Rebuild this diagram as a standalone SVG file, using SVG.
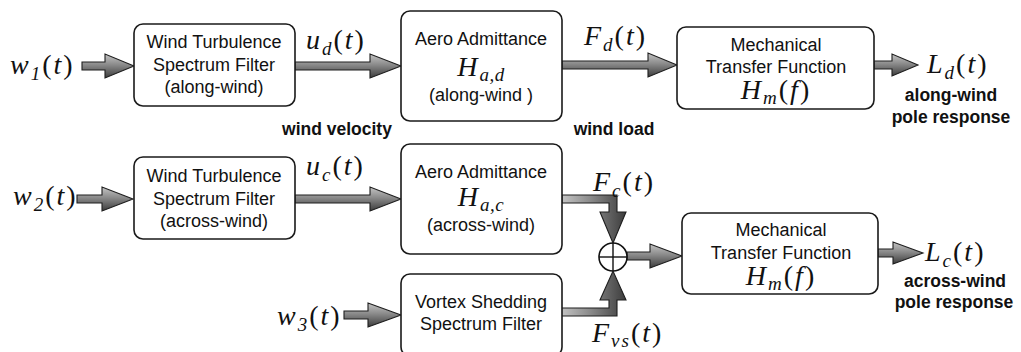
<svg xmlns="http://www.w3.org/2000/svg" width="1021" height="352" viewBox="0 0 1021 352">
<defs>
<linearGradient id="gh" x1="0" y1="0" x2="0" y2="1">
<stop offset="0" stop-color="#c4c4c4"/>
<stop offset="0.45" stop-color="#8a8a8a"/>
<stop offset="1" stop-color="#3c3c3c"/>
</linearGradient>
<linearGradient id="gv" x1="0" y1="0" x2="1" y2="0">
<stop offset="0" stop-color="#c4c4c4"/>
<stop offset="0.45" stop-color="#8a8a8a"/>
<stop offset="1" stop-color="#3c3c3c"/>
</linearGradient>
<style>
.box{fill:#fff;stroke:#1a1a1a;stroke-width:1.6}
.t{font-family:"Liberation Sans",Arial,sans-serif;font-size:18px;fill:#111;text-anchor:middle}
.b{font-family:"Liberation Sans",Arial,sans-serif;font-size:17.5px;font-weight:bold;fill:#111;text-anchor:middle}
.m{font-family:"Liberation Serif","Times New Roman",serif;font-size:28px;fill:#111;letter-spacing:2px}
.i{font-style:italic}
.s{font-size:19px;font-style:italic}
.ah{fill:url(#gh);stroke:#1e1e1e;stroke-width:1.1;stroke-linejoin:miter}
.av{fill:url(#gv);stroke:#1e1e1e;stroke-width:1.1;stroke-linejoin:miter}
</style>
</defs>
<rect width="1021" height="352" fill="#fff"/>

<g id="connectors">
<polygon class="ah" points="82,62 105,62 105,54 134,66 105,78 105,70 82,70"/>
<polygon class="ah" points="295,62 370,62 370,54 401,66 370,78 370,70 295,70"/>
<polygon class="ah" points="562,61 648,61 648,53 677,65 648,77 648,69 562,69"/>
<polygon class="ah" points="874,61 892,61 892,54 918,65 892,76 892,69 874,69"/>
<polygon class="ah" points="77,195 102,195 102,187 133,199 102,211 102,203 77,203"/>
<polygon class="ah" points="295,195 370,195 370,187 401,199 370,211 370,203 295,203"/>
<polygon class="av" points="562,195 617,195 617,212 626,212 613,243 600,212 609,212 609,203 562,203"/>
<polygon class="av" points="561,316 617,316 617,300 626,300 613,271 600,300 609,300 609,308 561,308"/>
<polygon class="ah" points="627,252 650,252 650,244 682,256 650,268 650,260 627,260"/>
<polygon class="ah" points="344,311 368,311 368,303 401,315 368,327 368,319 344,319"/>
<polygon class="ah" points="878,249 893,249 893,242 923,253 893,264 893,257 878,257"/>
</g>

<g id="sum">
<circle cx="613" cy="257" r="14" fill="#fff" stroke="#111" stroke-width="1.6"/>
<line x1="599" y1="257" x2="627" y2="257" stroke="#111" stroke-width="1.4"/>
<line x1="613" y1="243" x2="613" y2="271" stroke="#111" stroke-width="1.4"/>
</g>

<g id="wt-along">
<rect class="box" x="134" y="24" width="161" height="82" rx="9"/>
<text class="t" x="214" y="48">Wind Turbulence</text>
<text class="t" x="214" y="71">Spectrum Filter</text>
<text class="t" x="214" y="93">(along-wind)</text>
</g>

<g id="aero-along">
<rect class="box" x="401" y="11" width="161" height="110" rx="9"/>
<text class="t" x="481" y="45">Aero Admittance</text>
<text class="m" x="481" y="76" text-anchor="middle"><tspan class="i">H</tspan><tspan class="s" dy="5" letter-spacing="0.5">a,d</tspan></text>
<text class="t" x="481" y="101">(along-wind )</text>
</g>

<g id="mech-along">
<rect class="box" x="677" y="27" width="197" height="82" rx="9"/>
<text class="t" x="776" y="51">Mechanical</text>
<text class="t" x="776" y="73">Transfer Function</text>
<text class="m" x="776" y="99" text-anchor="middle" font-size="27"><tspan class="i">H</tspan><tspan class="s" dy="5">m</tspan><tspan dy="-5">(</tspan><tspan class="i">f</tspan>)</text>
</g>

<g id="wt-across">
<rect class="box" x="134" y="157" width="161" height="82" rx="9"/>
<text class="t" x="214" y="182">Wind Turbulence</text>
<text class="t" x="214" y="205">Spectrum Filter</text>
<text class="t" x="214" y="227">(across-wind)</text>
</g>

<g id="aero-across">
<rect class="box" x="401" y="144" width="161" height="110" rx="9"/>
<text class="t" x="481" y="178">Aero Admittance</text>
<text class="m" x="481" y="206" text-anchor="middle"><tspan class="i">H</tspan><tspan class="s" dy="5" letter-spacing="0.5">a,c</tspan></text>
<text class="t" x="481" y="231">(across-wind)</text>
</g>

<g id="vortex">
<rect class="box" x="401" y="274" width="161" height="82" rx="9"/>
<text class="t" x="481" y="308">Vortex Shedding</text>
<text class="t" x="481" y="330">Spectrum Filter</text>
</g>

<g id="mech-across">
<rect class="box" x="682" y="213" width="196" height="81" rx="9"/>
<text class="t" x="781" y="236">Mechanical</text>
<text class="t" x="781" y="259">Transfer Function</text>
<text class="m" x="781" y="285" text-anchor="middle" font-size="27"><tspan class="i">H</tspan><tspan class="s" dy="5">m</tspan><tspan dy="-5">(</tspan><tspan class="i">f</tspan>)</text>
</g>

<g id="labels">
<text class="m" x="10" y="74"><tspan class="i">w</tspan><tspan class="s" dy="6" font-style="normal">1</tspan><tspan dy="-6">(</tspan><tspan class="i">t</tspan>)</text>
<text class="m" x="306" y="49"><tspan class="i">u</tspan><tspan class="s" dy="6">d</tspan><tspan dy="-6">(</tspan><tspan class="i">t</tspan>)</text>
<text class="m" x="584" y="45"><tspan class="i">F</tspan><tspan class="s" dy="6">d</tspan><tspan dy="-6">(</tspan><tspan class="i">t</tspan>)</text>
<text class="m" x="927" y="73"><tspan class="i">L</tspan><tspan class="s" dy="6">d</tspan><tspan dy="-6">(</tspan><tspan class="i">t</tspan>)</text>
<text class="b" x="951" y="101">along-wind</text>
<text class="b" x="951" y="123">pole response</text>
<text class="b" x="337" y="135">wind velocity</text>
<text class="b" x="614" y="135">wind load</text>
<text class="m" x="13" y="205"><tspan class="i">w</tspan><tspan class="s" dy="6" font-style="normal">2</tspan><tspan dy="-6">(</tspan><tspan class="i">t</tspan>)</text>
<text class="m" x="306" y="175"><tspan class="i">u</tspan><tspan class="s" dy="6">c</tspan><tspan dy="-6">(</tspan><tspan class="i">t</tspan>)</text>
<text class="m" x="593" y="191"><tspan class="i">F</tspan><tspan class="s" dy="6">c</tspan><tspan dy="-6">(</tspan><tspan class="i">t</tspan>)</text>
<text class="m" x="277" y="325"><tspan class="i">w</tspan><tspan class="s" dy="6" font-style="normal">3</tspan><tspan dy="-6">(</tspan><tspan class="i">t</tspan>)</text>
<text class="m" x="592" y="342"><tspan class="i">F</tspan><tspan class="s" dy="5">vs</tspan><tspan dy="-5">(</tspan><tspan class="i">t</tspan>)</text>
<text class="m" x="925" y="261"><tspan class="i">L</tspan><tspan class="s" dy="6">c</tspan><tspan dy="-6">(</tspan><tspan class="i">t</tspan>)</text>
<text class="b" x="955" y="287">across-wind</text>
<text class="b" x="954" y="308">pole response</text>
</g>
</svg>
